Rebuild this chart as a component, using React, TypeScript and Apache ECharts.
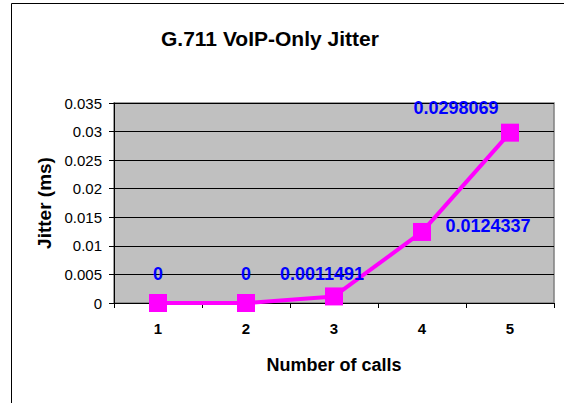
import React, { useEffect, useRef } from "react";
import * as echarts from "echarts";

const categories = ["1", "2", "3", "4", "5"];
const jitterValues = [0, 0, 0.0011491, 0.0124337, 0.0298069];
const labelTexts = ["0", "0", "0.0011491", "0.0124337", "0.0298069"];
const labelOffsets: [number, number][] = [
  [0, -29],
  [0, -29],
  [-12, -22],
  [66, -6],
  [-54, -25],
];

export default function App() {
  const ref = useRef<HTMLDivElement>(null);
  useEffect(() => {
    if (!ref.current) return;
    const chart = echarts.init(ref.current, undefined, { renderer: "svg" });
    const font = "Arial, 'Liberation Sans', sans-serif";
    chart.setOption({
      animation: false,
      backgroundColor: "#ffffff",
      title: {
        text: "G.711 VoIP-Only Jitter",
        left: 156,
        top: 23,
        textStyle: { fontFamily: font, fontSize: 21, fontWeight: "bold", color: "#000" },
      },
      graphic: [
        {
          type: "rect",
          silent: true,
          z: -1,
          shape: { x: 11.5, y: 3.5, width: 700, height: 600 },
          style: { fill: "none", stroke: "#000", lineWidth: 1 },
        },
      ],
      grid: {
        left: 114,
        top: 103,
        width: 440,
        height: 200,
        show: true,
        backgroundColor: "#C0C0C0",
        borderColor: "#808080",
        borderWidth: 1.5,
      },
      xAxis: {
        type: "category",
        data: categories,
        boundaryGap: true,
        name: "Number of calls",
        nameLocation: "middle",
        nameGap: 53,
        nameTextStyle: { fontFamily: font, fontSize: 18, fontWeight: "bold", color: "#000", verticalAlign: "top" },
        axisLine: { show: true, lineStyle: { color: "#000", width: 1 } },
        axisTick: { show: true, inside: false, length: 5, alignWithLabel: false, lineStyle: { color: "#000" } },
        axisLabel: { fontFamily: font, fontSize: 15, fontWeight: "bold", color: "#000", margin: 18 },
        splitLine: { show: false },
      },
      yAxis: {
        type: "value",
        min: 0,
        max: 0.035,
        interval: 0.005,
        name: "Jitter (ms)",
        nameLocation: "middle",
        nameRotate: 90,
        nameGap: 60,
        nameTextStyle: { fontFamily: font, fontSize: 19, fontWeight: "bold", color: "#000" },
        axisLine: { show: true, lineStyle: { color: "#000", width: 1 } },
        axisTick: { show: true, inside: false, length: 5, lineStyle: { color: "#000" } },
        axisLabel: {
          fontFamily: font,
          fontSize: 15,
          color: "#000",
          margin: 12,
          formatter: (v: number) => String(parseFloat(v.toFixed(3))),
        },
        splitLine: { show: true, lineStyle: { color: "#000", width: 1 } },
      },
      series: [
        {
          type: "line",
          data: jitterValues.map((v, i) => ({
            value: v,
            label: {
              show: true,
              position: "inside",
              offset: labelOffsets[i],
              formatter: labelTexts[i],
            },
          })),
          symbol: "rect",
          symbolSize: 18,
          lineStyle: { color: "#FF00FF", width: 4 },
          itemStyle: { color: "#FF00FF" },
          label: {
            show: true,
            fontFamily: font,
            fontSize: 18,
            fontWeight: "bold",
            color: "#0000FF",
          },
          z: 5,
        },
      ],
    });
    return () => chart.dispose();
  }, []);
  return (
    <div
      ref={ref}
      style={{ position: "fixed", left: 0, top: 0, width: 564, height: 403 }}
    />
  );
}
